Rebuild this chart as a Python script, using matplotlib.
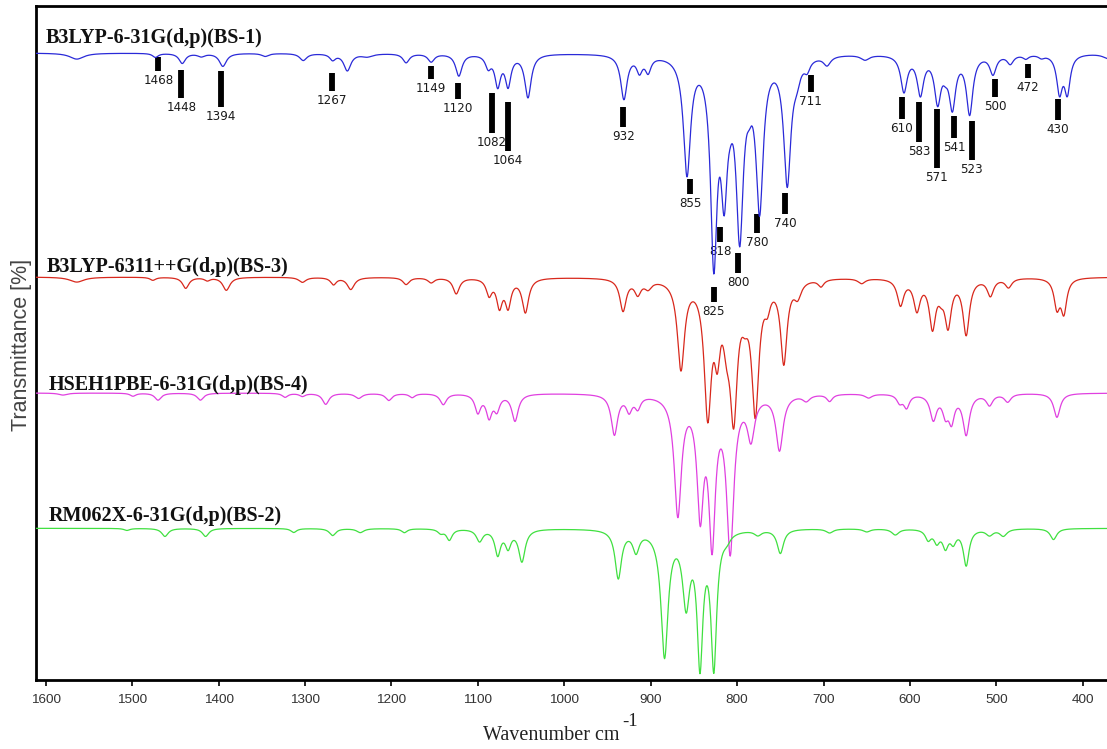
import numpy as np
import matplotlib
matplotlib.use("Agg")
import matplotlib.pyplot as plt

# ---------------- data ----------------
# Each simulated spectrum: band centres (cm-1), band depths (plot units), half widths (cm-1)
bs1_centers = [1564, 1473, 1442, 1420, 1395, 1346, 1302, 1268, 1251, 1228, 1183, 1154, 1122,
               1088, 1077, 1065, 1042, 931, 913, 903, 858, 827, 815, 808, 797, 786, 774, 742,
               731, 719, 696, 652, 607, 588, 568, 559, 551, 531, 504, 484, 466, 448, 427, 418, 370]
bs1_depths = [6, 4, 10, 3, 13, 3, 7, 6, 17, 3, 9, 8, 22,
              12, 30, 30, 43, 44, 15, 15, 116, 196, 118, 15, 170, 18, 147, 125,
              15, 10, 9, 5, 36, 38, 45, 10, 50, 58, 19, 9, 4, 3, 37, 37, 5]
bs1_widths = [10, 4, 4.5, 5, 5, 5, 5, 4, 5, 8, 4.5, 4.5, 4.5,
              4, 4, 4, 4.5, 4.5, 4, 4, 5, 4.5, 4.5, 4, 5, 4, 5, 5,
              5, 4, 5, 6, 4.5, 4.5, 4.5, 4, 4.5, 4.5, 4.5, 4.5, 4, 4, 4, 4, 8]

bs3_centers = [1564, 1476, 1438, 1413, 1391, 1303, 1267, 1247, 1183, 1154, 1125, 1087, 1075,
               1065, 1045, 932, 915, 903, 865, 834, 823, 812, 804, 791, 779, 765, 746, 730,
               703, 656, 611, 592, 574, 564, 556, 535, 507, 486, 430, 422]
bs3_depths = [5, 3, 11, 3, 13, 5, 7, 12, 7, 5, 16, 16, 27,
              27, 34, 32, 14, 8, 88, 130, 56, 40, 126, 20, 128, 18, 81, 15,
              7, 5, 26, 30, 47, 10, 45, 55, 17, 9, 28, 33]
bs3_widths = [10, 4, 4.5, 4, 5, 5, 4, 5, 4.5, 4.5, 4.5, 4, 4,
              4, 4.5, 4.5, 4.5, 5, 5, 5, 4, 5, 5, 5, 5, 4, 4.5, 5,
              4, 5, 4.5, 4.5, 4.5, 4, 4.5, 4.5, 4.5, 4.5, 4, 4]

bs4_centers = [1580, 1499, 1470, 1421, 1323, 1303, 1276, 1238, 1203, 1176, 1140, 1100, 1087,
               1078, 1057, 942, 925, 915, 868.6, 842.7, 829, 808, 784, 751, 720, 693, 648,
               612, 604, 573, 559, 552, 535, 508, 487, 430]
bs4_depths = [2, 3, 7, 7, 4, 3, 11, 5, 7, 4, 11, 18, 22,
              15, 27, 40, 15, 12, 118, 112, 140, 152, 41, 55, 6, 7, 4,
              8, 13, 25, 18, 25, 40, 11, 8, 24]
bs4_widths = [6, 4, 4.5, 4.5, 4, 4, 4.5, 5, 4.5, 4, 4.5, 4, 4,
              4, 4.5, 4.5, 4, 4, 5, 4.5, 4.5, 5, 5, 5, 5, 4, 5,
              4, 4, 4.5, 4, 4, 4.5, 4.5, 4.5, 4.5]

bs2_centers = [1506, 1462, 1415, 1313, 1268, 1236, 1185, 1143, 1133, 1098, 1077, 1065, 1049,
               937.5, 917, 884, 859, 843, 827, 812, 776, 750, 693, 650, 617, 579, 569,
               559, 550, 535, 508, 492, 434]
bs2_depths = [2, 8, 8, 4, 7, 4, 4, 4, 11, 12, 25, 17, 32,
              48, 20, 125, 70, 129, 134, 6, 5, 24, 4, 3, 6, 10, 12,
              17, 12, 36, 6, 7, 11]
bs2_widths = [4, 4.5, 4.5, 4, 4.5, 5, 4, 4, 4, 4.5, 4, 4, 4.5,
              4.5, 4.5, 5, 5, 4, 4, 5, 5, 4.5, 5, 5, 5, 4, 4,
              4, 4, 4, 5, 5, 4.5]

series_names = ["B3LYP-6-31G(d,p)(BS-1)", "B3LYP-6311++G(d,p)(BS-3)",
                "HSEH1PBE-6-31G(d,p)(BS-4)", "RM062X-6-31G(d,p)(BS-2)"]
series_offsets = [627, 403, 287, 151.7]

# Assigned bands of BS-1: label, bar position (cm-1), bar top, bar bottom (plot units)
band_labels = ["1468", "1448", "1394", "1267", "1149", "1120", "1082", "1064", "932", "855",
               "818", "800", "825", "780", "740", "711", "610", "583", "571", "541", "523",
               "500", "472", "430"]
band_pos = [1469.5, 1443.2, 1396.8, 1269.3, 1154.2, 1122.9, 1083.8, 1065.3, 931.6, 854.0,
            819.6, 799.0, 827.3, 777.0, 744.2, 714.9, 609.8, 589.3, 569.2, 549.1, 528.6,
            501.6, 464.0, 428.9]
band_top = [623, 610, 609, 607, 614, 597, 587, 578, 573, 501,
            453, 427, 393, 466, 487, 605, 583, 578, 571, 564, 559,
            601, 616, 581]
band_bot = [609, 582, 573, 589, 601, 581, 547, 529, 553, 486,
            438, 407, 378, 447, 466, 588, 561, 538, 512, 542, 520,
            583, 602, 560]

# ---------------- drawing ----------------
def spectrum(w, centers, depths, widths, offset):
    c = np.asarray(centers, float)[:, None]
    d = np.asarray(depths, float)[:, None]
    g = np.asarray(widths, float)[:, None]
    return offset - (d * g**2 / ((w[None, :] - c) ** 2 + g**2)).sum(axis=0)

fig = plt.figure(figsize=(11.07, 7.49), dpi=100)
ax = fig.add_axes([36 / 1107, 1 - 680 / 749, (1112 - 36) / 1107, 674 / 749])

w = np.arange(1612.0, 360.0, -0.5)
colors = ["#2a2ad8", "#d8281c", "#e040e0", "#40e040"]
all_series = [(bs1_centers, bs1_depths, bs1_widths),
              (bs3_centers, bs3_depths, bs3_widths),
              (bs4_centers, bs4_depths, bs4_widths),
              (bs2_centers, bs2_depths, bs2_widths)]
for (c, d, g), off, col in zip(all_series, series_offsets, colors):
    ax.plot(w, spectrum(w, c, d, g, off), color=col, lw=0.9, zorder=3)

# series titles
title_y = [637, 408.3, 290, 159.3]
title_x = [1599.6, 1599, 1596, 1596]
for name, tx, ty in zip(series_names, title_x, title_y):
    ax.text(tx, ty, name, family="Liberation Serif", fontweight="bold", fontsize=14.5,
            color="#111111", va="baseline", ha="left", zorder=4)

# band markers
ax.vlines(band_pos, band_bot, band_top, color="black", lw=4.2, zorder=2)
for lab, x, b in zip(band_labels, band_pos, band_bot):
    ax.text(x, b - 9.5, lab, ha="center", va="center", fontsize=8.6,
            family="DejaVu Sans", color="#1a1a1a", zorder=2)

ax.set_xlim(1611.2, 366.3)
ax.set_ylim(0, 674)
ax.set_yticks([])
ax.set_xticks(np.arange(1600, 399, -100))
ax.tick_params(axis="x", direction="out", length=4, width=1.2, pad=6,
               labelsize=9.7, labelcolor="#333333")
for t in ax.get_xticklabels():
    t.set_family("Liberation Sans")
for s in ["left", "top", "bottom", "right"]:
    ax.spines[s].set_linewidth(2)

fig.text(22 / 1107, 1 - 345 / 749, "Transmittance [%]", rotation=90, ha="center",
         va="center", fontsize=15.5, family="Liberation Sans", color="#444444")
fig.text(483 / 1107, 1 - 735 / 749, "Wavenumber cm", ha="left", va="center",
         fontsize=14.5, family="Liberation Serif", color="#222222")
fig.text(622 / 1107, 1 - 721 / 749, "-1", ha="left", va="center",
         fontsize=13.5, family="Liberation Serif", color="#222222")

fig.savefig("out.png", dpi=100)
